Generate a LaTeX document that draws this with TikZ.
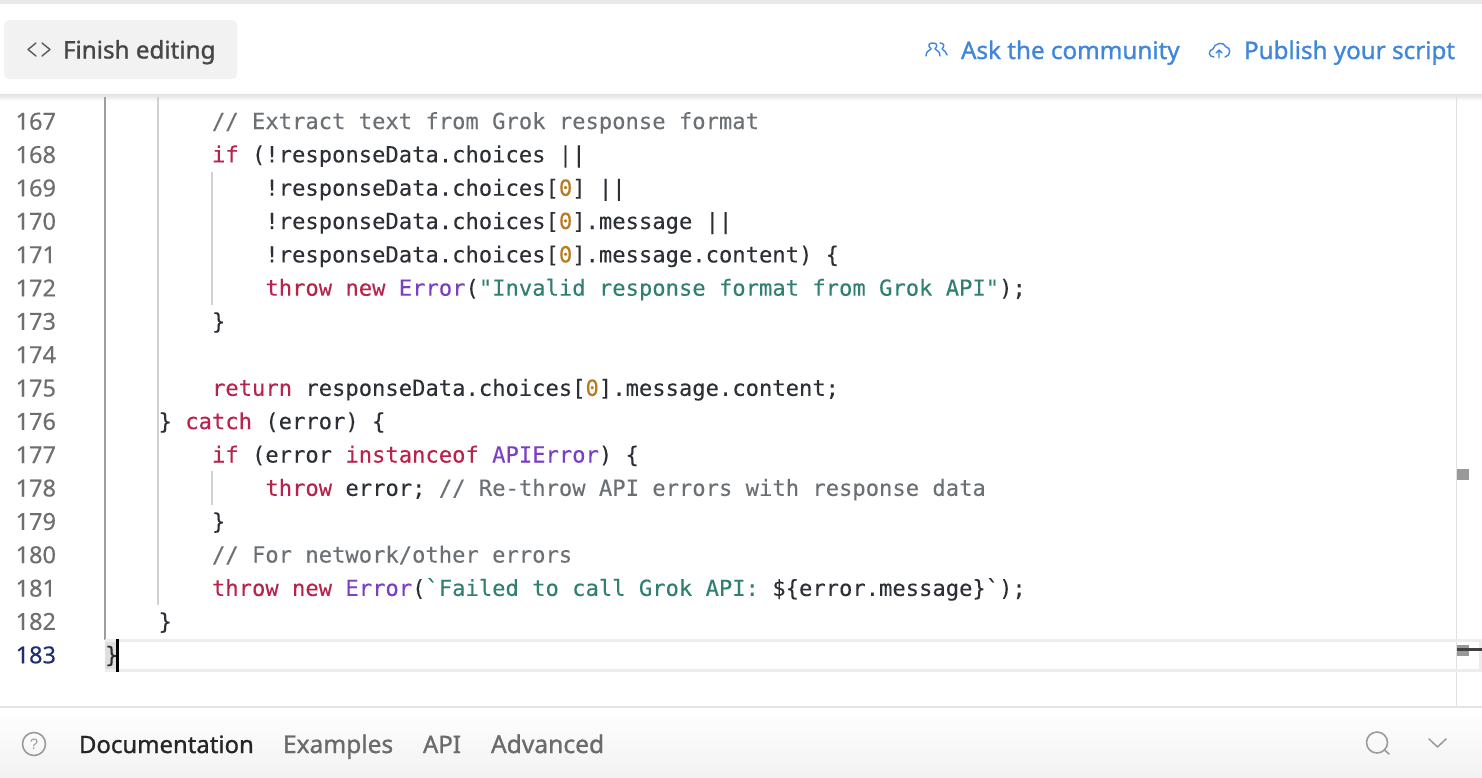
\documentclass[tikz,border=0pt]{standalone}
\usepackage{fontspec}
\newfontfamily\codefont[FakeBold=0.12]{DejaVu Sans Mono}
\newfontfamily\uifont[FakeBold=1.1]{Noto Sans}
\newfontfamily\gutfont[FakeBold=0.3]{Noto Sans}
\newfontfamily\uifontplain{Liberation Sans}
\definecolor{ctext}{HTML}{2C3036}
\definecolor{ccomment}{HTML}{6B7075}
\definecolor{ckey}{HTML}{B8234C}
\definecolor{cclass}{HTML}{7B3FC4}
\definecolor{cstr}{HTML}{2F7F72}
\definecolor{cnum}{HTML}{B97A1E}
\definecolor{cgut}{HTML}{6E6E6E}
\definecolor{ccur}{HTML}{1D2F6F}
\definecolor{clink}{HTML}{3F86DC}
\definecolor{cicon}{HTML}{9A9A9A}
\newcommand{\ky}[1]{\textcolor{ckey}{#1}}
\newcommand{\cl}[1]{\textcolor{cclass}{#1}}
\newcommand{\st}[1]{\textcolor{cstr}{#1}}
\newcommand{\nm}[1]{\textcolor{cnum}{#1}}
\newcommand{\cm}[1]{\textcolor{ccomment}{#1}}
\tikzset{
  code/.style={anchor=base west,inner sep=0pt,outer sep=0pt,text=ctext,font=\codefont\fontsize{22.16}{26}\selectfont},
  gutter/.style={anchor=base east,inner sep=0pt,outer sep=0pt,text=cgut,font=\gutfont\fontsize{23.5}{26}\selectfont},
  ui/.style={anchor=base west,inner sep=0pt,outer sep=0pt,font=\uifont\fontsize{24.2}{28}\selectfont},
  uitab/.style={anchor=base west,inner sep=0pt,outer sep=0pt,font=\uifont\fontsize{24.5}{28}\selectfont},
  guide/.style={draw=black!18,line width=1.6pt},
  iconline/.style={draw=#1,line width=1.4pt,line cap=round,line join=round,fill=none},
}
\begin{document}
\begin{tikzpicture}[x=1pt,y=-1pt]
\useasboundingbox (0,0) rectangle (1482,777);
\fill[white] (0,0) rectangle (1482,777);
% top strip and header shadow
\fill[black!9] (0,0) rectangle (1482,4);
\shade[top color=black!12,bottom color=white] (0,94) rectangle (1482,101);
% button
\node[draw=none,fill=black!5,rounded corners=5pt,minimum width=233pt,minimum height=59pt,inner sep=0pt] (finishbtn) at (120.5,49.5) {};
\draw[iconline=black!65] (36,43) -- (28,49.5) -- (36,56);
\draw[iconline=black!65] (42,43) -- (50,49.5) -- (42,56);
\node[ui,text=black!72] (finish) at (63,58.5) {Finish editing};
\node[ui,text=clink] (ask) at (961,59) {Ask the community};
\node[ui,text=clink] (publish) at (1244,59) {Publish your script};
% people icon
\draw[iconline=clink] (926,56) .. controls (926,51) and (929,51) .. (931,49) .. controls (927,45) and (929,43) .. (933,43) .. controls (937,43) and (938,46) .. (935,49) .. controls (937,51) and (940,51) .. (940,56);
\draw[iconline=clink] (940,43) .. controls (944,43) and (945,46) .. (942,49) .. controls (944,51) and (947,52) .. (947,55);
% cloud icon
\draw[iconline=clink] (1214,57) .. controls (1208,57) and (1208,50) .. (1213,49) .. controls (1214,43) and (1224,41) .. (1226,47) .. controls (1231,47) and (1231,56) .. (1225,57);
\draw[iconline=clink] (1219,58) -- (1219,50) (1216,53) -- (1219,50) -- (1222,53);
% gutter and guides
\draw[draw=black!38,line width=2pt] (105,97) -- (105,640);
\draw[guide] (158,97) -- (158,605);
\draw[guide] (212,172) -- (212,305);
\draw[guide] (212,471) -- (212,505);
% right gutter line
\draw[draw=black!12,line width=1pt] (1456,97) -- (1456,706);
% current line
\fill[black!13] (105,640) rectangle (118,670);
\draw[draw=black!7,line width=3pt] (105,640) -- (1480,640) -- (1480,670) -- (105,670);
\fill[black] (115.5,639) rectangle (119,672);
% line numbers
\foreach \n/\y in {167/129.7,168/163,169/196.4,170/229.7,171/263.1,172/296.4,173/329.8,174/363.1,175/396.5,176/429.8,177/463.2,178/496.5,179/529.9,180/563.2,181/596.6,182/629.9}{
  \node[gutter] (n\n) at (56,\y) {\n};
}
\node[gutter,text=ccur] (n183) at (56,663.3) {183};
% code
\node[code] (c167) at (212,129) {\cm{// Extract text from Grok response format}};
\node[code] (c168) at (212,162.3) {\ky{if} (!responseData.choices ||};
\node[code] (c169) at (265.4,195.7) {!responseData.choices[\nm{0}] ||};
\node[code] (c170) at (265.4,229) {!responseData.choices[\nm{0}].message ||};
\node[code] (c171) at (265.4,262.4) {!responseData.choices[\nm{0}].message.content) \{};
\node[code] (c172) at (265.4,295.7) {\ky{throw new} \cl{Error}(\st{"Invalid response format from Grok API"});};
\node[code] (c173) at (212,329.1) {\}};
\node[code] (c175) at (212,395.8) {\ky{return} responseData.choices[\nm{0}].message.content;};
\node[code] (c176) at (158.6,429.1) {\} \ky{catch} (error) \{};
\node[code] (c177) at (212,462.5) {\ky{if} (error \ky{instanceof} \cl{APIError}) \{};
\node[code] (c178) at (265.4,495.8) {\ky{throw} error; \cm{// Re-throw API errors with response data}};
\node[code] (c179) at (212,529.2) {\}};
\node[code] (c180) at (212,562.5) {\cm{// For network/other errors}};
\node[code] (c181) at (212,595.9) {\ky{throw new} \cl{Error}(\st{`Failed to call Grok API: }\$\{error.message\}`);};
\node[code] (c182) at (158.6,629.2) {\}};
\node[code] (c183) at (105,662.6) {\}};
% scrollbar marks
\fill[black!40] (1457,469) rectangle (1469,480);
\fill[black!40] (1457,645) rectangle (1469,656);
\fill[black!75] (1457,648) rectangle (1482,650.5);
% footer
\shade[top color=white,bottom color=black!5] (0,707) rectangle (1482,777);
\fill[black!11] (0,705.5) rectangle (1482,708);
\draw[draw=cicon,line width=1.6pt] (34,744) circle (11.5);
\node[anchor=center,inner sep=0pt,text=cicon,font=\uifontplain\fontsize{15}{18}\selectfont] (help) at (34,744) {?};
\node[ui,text=black!85,font=\uifont\fontsize{23.9}{28}\selectfont] (doc) at (79,753) {Documentation};
\node[uitab,text=black!58] (ex) at (283,753) {Examples};
\node[uitab,text=black!58,font=\uifont\fontsize{24}{28}\selectfont] (api) at (423,753) {API};
\node[uitab,text=black!58,font=\uifont\fontsize{24.6}{28}\selectfont] (adv) at (491,753) {Advanced};
\draw[draw=cicon,line width=1.6pt] (1377,742.5) circle (10.5);
\draw[draw=cicon,line width=1.6pt,line cap=round] (1384.5,750) -- (1389,754);
\draw[draw=cicon,line width=1.5pt,line cap=round,line join=round] (1429,739) -- (1437.5,747) -- (1446,739);
\end{tikzpicture}
\end{document}
